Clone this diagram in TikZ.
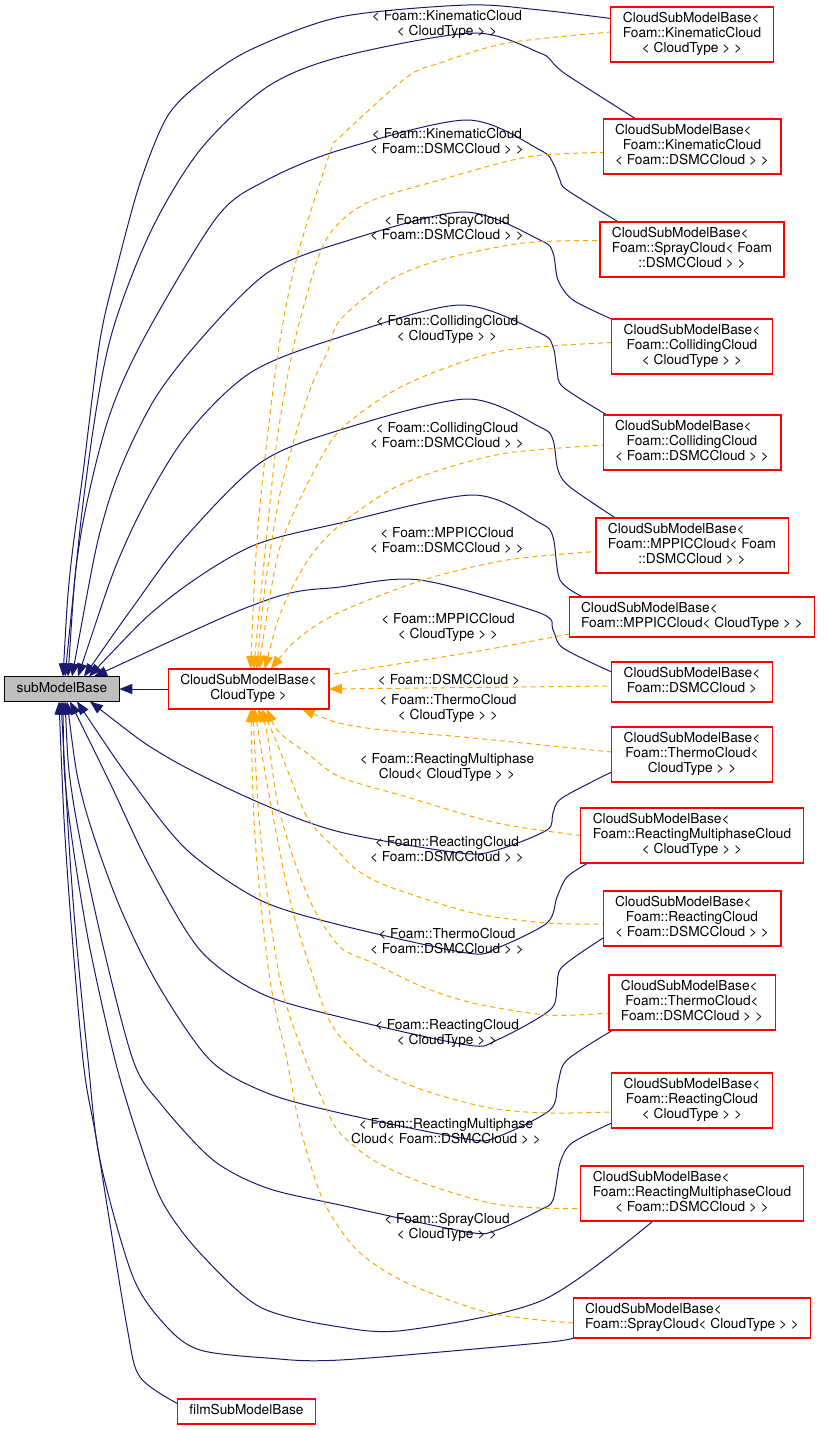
\documentclass[tikz,border=0pt]{standalone}
\usepackage{fontspec}
\setmainfont{TeX Gyre Heros}
\usepackage{tikz}
\usetikzlibrary{arrows.meta, positioning, backgrounds}
\usepackage{xcolor}

\definecolor{inhblue}{RGB}{25,25,112}
\definecolor{tplorange}{RGB}{255,165,0}
\definecolor{basegray}{RGB}{191,191,191}

\newcommand{\dfont}{\fontsize{13.7}{15}\selectfont}
\newcommand{\tmplbox}[1]{\begin{tabular}{@{}c@{}}\multicolumn{1}{@{}l@{}}{CloudSubModelBase<}\\#1\end{tabular}}

\begin{document}
\begin{tikzpicture}[
  x=1pt, y=-1pt,
  box/.style={draw=red, fill=white, line width=1.1pt, outer sep=0pt, inner xsep=12pt, inner ysep=5pt, font=\dfont},
  single/.style={text height=10.5pt, text depth=4.5pt},
  lbl/.style={align=center, font=\dfont, inner sep=0pt},
  inh/.style={{Triangle[length=13pt,width=10pt]}-, draw=inhblue, line width=1pt},
  tpl/.style={{Triangle[length=13pt,width=10pt]}-, draw=tplorange, line width=1pt, dash pattern=on 5pt off 4pt}
]
\useasboundingbox (0,0) rectangle (823,1430);

\node[box, draw=black, fill=basegray, single] (sub) at (62,689) {subModelBase};
\node[box, right=49pt of sub] (cloudBase) {\tmplbox{CloudType >}};
\node[box, single] (film) at (246.5,1411.5) {filmSubModelBase};

% specialisations, top to bottom
\node[box] (kinCT) at (692,34.5) {\tmplbox{Foam::KinematicCloud\\< CloudType > >}};
\node[box, below=57pt of kinCT] (kinDSMC) {\tmplbox{Foam::KinematicCloud\\< Foam::DSMCCloud > >}};
\node[box, below=48pt of kinDSMC] (sprayDSMC) {\tmplbox{Foam::SprayCloud< Foam\\::DSMCCloud > >}};
\node[box, below=42pt of sprayDSMC] (collCT) {\tmplbox{Foam::CollidingCloud\\< CloudType > >}};
\node[box, below=41pt of collCT] (collDSMC) {\tmplbox{Foam::CollidingCloud\\< Foam::DSMCCloud > >}};
\node[box, below=48pt of collDSMC] (mppicDSMC) {\tmplbox{Foam::MPPICCloud< Foam\\::DSMCCloud > >}};
\node[box, below=24pt of mppicDSMC] (mppicCT) {\tmplbox{Foam::MPPICCloud< CloudType > >}};
\node[box, below=25pt of mppicCT] (dsmc) {\tmplbox{Foam::DSMCCloud >}};
\node[box, below=25pt of dsmc] (thermoCT) {\tmplbox{Foam::ThermoCloud<\\CloudType > >}};
\node[box, below=26pt of thermoCT] (rmpCT) {\tmplbox{Foam::ReactingMultiphaseCloud\\< CloudType > >}};
\node[box, below=28pt of rmpCT] (reactDSMC) {\tmplbox{Foam::ReactingCloud\\< Foam::DSMCCloud > >}};
\node[box, below=29pt of reactDSMC] (thermoDSMC) {\tmplbox{Foam::ThermoCloud<\\Foam::DSMCCloud > >}};
\node[box, below=43pt of thermoDSMC] (reactCT) {\tmplbox{Foam::ReactingCloud\\< CloudType > >}};
\node[box, below=38pt of reactCT] (rmpDSMC) {\tmplbox{Foam::ReactingMultiphaseCloud\\< Foam::DSMCCloud > >}};
\node[box, below=77pt of rmpDSMC] (sprayCT) {\tmplbox{Foam::SprayCloud< CloudType > >}};

% template argument labels
\node[lbl] (lKinCT) at (447,24) {< Foam::KinematicCloud\\< CloudType > >};
\node[lbl] (lKinDSMC) at (447,141) {< Foam::KinematicCloud\\< Foam::DSMCCloud > >};
\node[lbl] (lSprayDSMC) at (447,227) {< Foam::SprayCloud\\< Foam::DSMCCloud > >};
\node[lbl] (lCollCT) at (447,329) {< Foam::CollidingCloud\\< CloudType > >};
\node[lbl] (lCollDSMC) at (447,435) {< Foam::CollidingCloud\\< Foam::DSMCCloud > >};
\node[lbl] (lMppicDSMC) at (447,540) {< Foam::MPPICCloud\\< Foam::DSMCCloud > >};
\node[lbl] (lMppicCT) at (448,627) {< Foam::MPPICCloud\\< CloudType > >};
\node[lbl] (lDsmc) at (449,680) {< Foam::DSMCCloud >};
\node[lbl] (lThermoCT) at (448,708) {< Foam::ThermoCloud\\< CloudType > >};
\node[lbl] (lRmpCT) at (447,767) {< Foam::ReactingMultiphase\\Cloud< CloudType > >};
\node[lbl] (lReactDSMC) at (447,849) {< Foam::ReactingCloud\\< Foam::DSMCCloud > >};
\node[lbl] (lThermoDSMC) at (447,941) {< Foam::ThermoCloud\\< Foam::DSMCCloud > >};
\node[lbl] (lReactCT) at (447,1033) {< Foam::ReactingCloud\\< CloudType > >};
\node[lbl] (lRmpDSMC) at (446,1131) {< Foam::ReactingMultiphase\\Cloud< Foam::DSMCCloud > >};
\node[lbl] (lSprayCT) at (447,1227) {< Foam::SprayCloud\\< CloudType > >};

\begin{scope}[on background layer]
\draw[inh] (sub) -- (cloudBase);
% public inheritance from subModelBase
\draw[inh] plot[smooth] coordinates {([xshift=1pt]sub.north) (70,573) (83,473) (100,340) (117,267) (140,183) (167,117) (200,83) (250,50) (340,17) (467,5) (540,10) ([yshift=16pt]kinCT.west)};
\draw[inh] plot[smooth] coordinates {([xshift=3pt]sub.north) (87,473) (110,340) (150,233) (200,150) (267,87) (340,57) (473,33) (540,53) (553,63) (567,75) ([xshift=-56pt]kinDSMC.north)};
\draw[inh] plot[smooth] coordinates {([xshift=6pt]sub.north) (80,540) (107,423) (143,340) (217,217) (267,180) (340,150) (467,120) (540,150) (553,163) (560,180) (567,190) ([xshift=-73.5pt]sprayDSMC.north)};
\draw[inh] plot[smooth] coordinates {([xshift=10pt]sub.north) (107,507) (150,407) (200,340) (267,273) (340,243) (463,212) (540,240) (553,253) (558,280) (573,300) (collCT.north west)};
\draw[inh] plot[smooth] coordinates {([xshift=16pt]sub.north) (127,540) (183,440) (250,373) (340,337) (460,305) (540,333) (553,347) (557,370) (563,387) ([xshift=-85pt]collDSMC.north)};
\draw[inh] plot[smooth] coordinates {([xshift=22pt]sub.north) (133,607) (183,540) (260,463) (340,430) (467,399) (540,427) (553,440) (558,470) (570,487) ([xshift=-76.5pt]mppicDSMC.north)};
\draw[inh] plot[smooth] coordinates {([xshift=27pt]sub.north) (167,600) (250,547) (340,523) (473,495) (540,523) (553,537) (560,580) ([xshift=-109pt]mppicCT.north)};
\draw[inh] plot[smooth] coordinates {([xshift=32pt]sub.north) (267,600) (340,587) (420,580) (540,613) (553,630) (563,648) ([yshift=10pt]dsmc.west)};
\draw[inh] plot[smooth] coordinates {([xshift=28pt]sub.south) (167,757) (260,803) (340,832) (460,853) (497,850) (547,830) (553,813) (562,798) ([yshift=-17.5pt]thermoCT.west)};
\draw[inh] plot[smooth] coordinates {([xshift=15pt]sub.south) (133,783) (187,850) (260,900) (340,925) (467,953) (497,948) (547,923) (557,897) (567,877) ([xshift=-104pt]rmpCT.south)};
\draw[inh] plot[smooth] coordinates {([xshift=8pt]sub.south) (110,783) (150,867) (200,950) (260,993) (340,1017) (467,1045) (497,1040) (550,1010) (557,987) (562,967) ([yshift=-19.5pt]reactDSMC.west)};
\draw[inh] plot[smooth] coordinates {([xshift=5pt]sub.south) (83,800) (117,900) (157,983) (210,1060) (267,1093) (340,1113) (467,1139) (497,1137) (550,1110) (558,1083) (567,1060) ([xshift=4pt]thermoDSMC.south west)};
\draw[inh] plot[smooth] coordinates {([xshift=3pt]sub.south) (73,800) (100,933) (133,1060) (160,1103) (213,1160) (267,1188) (340,1205) (467,1232) (497,1230) (540,1210) (553,1200) (560,1163) (572,1143) ([yshift=-22.5pt]reactCT.west)};
\draw[inh] plot[smooth] coordinates {([xshift=1pt]sub.south) (67,800) (87,933) (115,1060) (140,1143) (163,1203) (200,1253) (260,1307) (340,1327) (407,1330) (543,1300) ([xshift=-39pt]rmpDSMC.south)};
\draw[inh] plot[smooth] coordinates {([xshift=-1pt]sub.south) (73,900) (88,1060) (100,1160) (133,1277) (167,1327) (200,1350) (267,1358) (340,1360) (540,1343) (sprayCT.south west)};
\draw[inh] plot[smooth] coordinates {([xshift=-3pt]sub.south) (67,867) (83,1060) (97,1143) (127,1327) (140,1377) ([yshift=8pt]film.west)};
% template instantiations
\draw[tpl] plot[smooth] coordinates {([xshift=2pt]cloudBase.north) (257,540) (267,440) (280,340) (297,257) (330,153) (340,137) (407,77) (440,63) (507,43) ([yshift=2.5pt]kinCT.west)};
\draw[tpl] plot[smooth] coordinates {([xshift=5pt]cloudBase.north) (263,573) (277,440) (295,340) (320,253) (340,222) (373,200) (440,180) (527,157) ([yshift=-6pt]kinDSMC.west)};
\draw[tpl] plot[smooth] coordinates {([xshift=8pt]cloudBase.north) (267,573) (283,480) (310,390) (327,353) (340,320) (388,281) (440,260) (523,243) ([yshift=9pt]sprayDSMC.west)};
\draw[tpl] plot[smooth] coordinates {([xshift=11pt]cloudBase.north) (263,640) (280,547) (313,473) (340,430) (390,393) (440,370) (507,350) ([yshift=4pt]collCT.west)};
\draw[tpl] plot[smooth] coordinates {([xshift=16pt]cloudBase.north) (283,607) (310,557) (340,525) (390,490) (440,470) (507,453) ([yshift=-2.5pt]collDSMC.west)};
\draw[tpl] plot[smooth] coordinates {([xshift=22pt]cloudBase.north) (300,637) (340,612) (423,580) (507,560) ([yshift=-6pt]mppicDSMC.west)};
\draw[tpl] plot[smooth] coordinates {([yshift=14pt]cloudBase.east) (340,673) (473,652) ([yshift=3pt]mppicCT.south west)};
\draw[tpl] (cloudBase.east) -- ([yshift=-4pt]dsmc.west);
\draw[tpl] plot[smooth] coordinates {([xshift=53pt]cloudBase.south) (360,727) (473,738) ([yshift=2.5pt]thermoCT.west)};
\draw[tpl] plot[smooth] coordinates {([xshift=18pt]cloudBase.south) (280,733) (307,753) (340,777) (407,797) (497,823) (rmpCT.west)};
\draw[tpl] plot[smooth] coordinates {([xshift=13pt]cloudBase.south) (277,743) (307,817) (337,850) (357,870) (390,887) (473,913) (547,923) ([yshift=-5.5pt]reactDSMC.west)};
\draw[tpl] plot[smooth] coordinates {([xshift=9pt]cloudBase.south) (267,733) (277,800) (293,857) (313,907) (340,947) (373,963) (423,987) (473,1003) (547,1015) ([yshift=-10.5pt]thermoDSMC.west)};
\draw[tpl] plot[smooth] coordinates {([xshift=6pt]cloudBase.south) (270,800) (290,900) (310,967) (333,1027) (373,1067) (423,1090) (490,1108) (547,1113) ([yshift=-11.5pt]reactCT.west)};
\draw[tpl] plot[smooth] coordinates {([xshift=4pt]cloudBase.south) (262,850) (280,980) (303,1053) (327,1110) (340,1133) (373,1160) (423,1183) (490,1203) (540,1208) ([yshift=-15pt]rmpDSMC.west)};
\draw[tpl] plot[smooth] coordinates {([xshift=2pt]cloudBase.south) (256,850) (270,980) (287,1060) (300,1127) (323,1200) (357,1250) (407,1283) (490,1313) ([yshift=-5pt]sprayCT.west)};
\end{scope}
\end{tikzpicture}
\end{document}
